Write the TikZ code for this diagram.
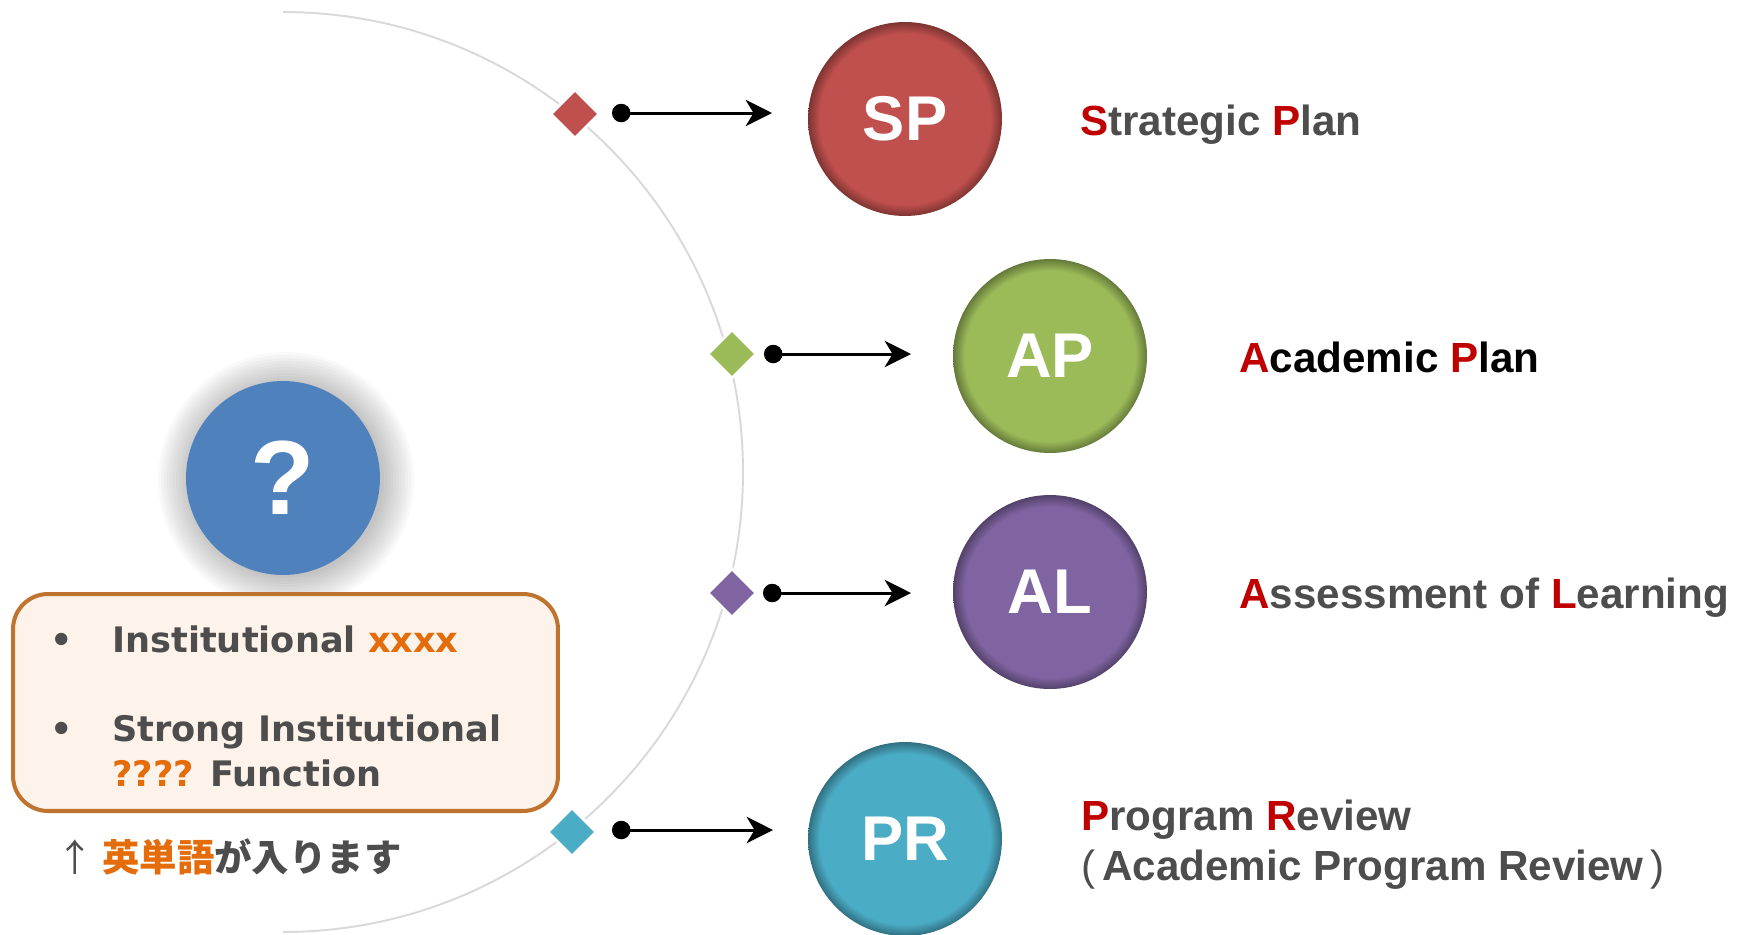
\documentclass[tikz,border=0pt]{standalone}
\usepackage{fontspec}
\setmainfont{Liberation Sans}
\newfontfamily\boxfont{DejaVu Sans}
\newfontfamily\jpfont{Noto Sans CJK JP}
\usetikzlibrary{shapes.geometric,arrows.meta}
\definecolor{spred}{HTML}{C0504D}
\definecolor{apgreen}{HTML}{9BBB59}
\definecolor{alpurple}{HTML}{8064A2}
\definecolor{prteal}{HTML}{4BACC6}
\definecolor{qblue}{HTML}{4F81BD}
\definecolor{initred}{HTML}{C00000}
\definecolor{txtgray}{HTML}{4D4D4D}
\definecolor{hiorange}{HTML}{E46C0A}
\definecolor{boxedge}{HTML}{C0722F}
\definecolor{boxfill}{HTML}{FDF3EA}
\definecolor{arcgray}{HTML}{D9D9D9}
\pgfdeclareradialshading{rimSP}{\pgfpoint{0bp}{0bp}}{color(0bp)=(spred); color(22bp)=(spred); color(25bp)=(spred!65!black); color(50bp)=(spred!65!black)}
\pgfdeclareradialshading{rimAP}{\pgfpoint{0bp}{0bp}}{color(0bp)=(apgreen); color(22bp)=(apgreen); color(25bp)=(apgreen!65!black); color(50bp)=(apgreen!65!black)}
\pgfdeclareradialshading{rimAL}{\pgfpoint{0bp}{0bp}}{color(0bp)=(alpurple); color(22bp)=(alpurple); color(25bp)=(alpurple!65!black); color(50bp)=(alpurple!65!black)}
\pgfdeclareradialshading{rimPR}{\pgfpoint{0bp}{0bp}}{color(0bp)=(prteal); color(22bp)=(prteal); color(25bp)=(prteal!65!black); color(50bp)=(prteal!65!black)}
\newcommand{\ini}[1]{\textcolor{initred}{#1}}
\newcommand{\hot}[1]{\textcolor{hiorange}{#1}}
\begin{document}
\begin{tikzpicture}[x=0.02cm, y=-0.02cm,
    ball/.style={circle, minimum size=3.88cm, inner sep=0pt, text=white,
        font=\fontsize{36}{40}\selectfont\bfseries, shade},
    gem/.style={diamond, minimum width=0.98cm, minimum height=0.98cm,
        inner sep=0pt, draw=white, line width=1.5pt},
    link/.style={line width=1.7pt,
        {Circle[length=10.5pt]}-{Stealth[length=15pt, width=15pt, inset=4.5pt]}},
    title/.style={anchor=base west, inner sep=0pt, text=txtgray,
        font=\fontsize{24}{28}\selectfont\bfseries},
    boxtext/.style={anchor=base west, inner sep=0pt, text=txtgray,
        font=\boxfont\fontsize{20}{24}\selectfont\bfseries}]
    \useasboundingbox (0,0) rectangle (1750,934);
    % guide arc
    \draw [arcgray, line width=1.1pt] (283,12) arc[start angle=-90, end angle=90, radius=460];
    \node [gem, fill=spred]    (gSP) at (575,114) {};
    \node [gem, fill=apgreen]  (gAP) at (732,354) {};
    \node [gem, fill=alpurple] (gAL) at (732,593) {};
    \node [gem, fill=prteal]   (gPR) at (572,832) {};
    \coordinate (dSP) at (612,113);
    \coordinate (eSP) at (772,113);
    \coordinate (dAP) at (764,354);
    \coordinate (eAP) at (911,354);
    \coordinate (dAL) at (763,593);
    \coordinate (eAL) at (911,593);
    \coordinate (dPR) at (612,830);
    \coordinate (ePR) at (773,830);
    \draw [link] (dSP) -- (eSP);
    \draw [link] (dAP) -- (eAP);
    \draw [link] (dAL) -- (eAL);
    \draw [link] (dPR) -- (ePR);
    \node [ball, shading=rimSP] (SP) at (905,119) {SP};
    \node [ball, shading=rimAP] (AP) at (1050,356) {AP};
    \node [ball, shading=rimAL] (AL) at (1050,592) {AL};
    \node [ball, shading=rimPR] (PR) at (905,839) {PR};
    \node [title] (tSP) at (1080,135) {\ini{S}trategic \ini{P}lan};
    \node [title, text=black] (tAP) at (1239,372) {\ini{A}cademic \ini{P}lan};
    \node [title] (tAL) at (1239,608) {\ini{A}ssessment of \ini{L}earning};
    \node [title] (tPR) at (1081,830) {\ini{P}rogram \ini{R}eview};
    \node [title] (tAPR) at (1081,880) {{\mdseries(}\,Academic Program Review\,{\mdseries)}};
    % question ball with soft shadow
    \foreach \r in {98,101,...,128}
        \fill [black, opacity=0.022] (286,480) circle (\r);
    \node [circle, minimum size=3.88cm, inner sep=0pt, fill=qblue, text=white,
        font=\fontsize{60}{66}\selectfont\bfseries] (Q) at (283,478) {?};
    % note box
    \node [draw=boxedge, fill=boxfill, line width=2.3pt, rounded corners=0.7cm,
        minimum width=10.9cm, minimum height=4.34cm, inner sep=0pt] (box) at (285.5,702.5) {};
    \node [boxtext] (b1) at (50,652) {•};
    \node [boxtext] (i1) at (112,652) {Institutional \hot{xxxx}};
    \node [boxtext] (b2) at (50,741) {•};
    \node [boxtext] (i2) at (112,741) {Strong Institutional};
    \node [boxtext] (i3) at (112,786) {\hot{????} Function};
    \node [anchor=base west, inner sep=0pt, text=txtgray,
        font=\jpfont\fontsize{21.3}{24}\selectfont] (note) at (56,871) {↑ {\bfseries\hot{英単語}が入ります}};
\end{tikzpicture}
\end{document}
